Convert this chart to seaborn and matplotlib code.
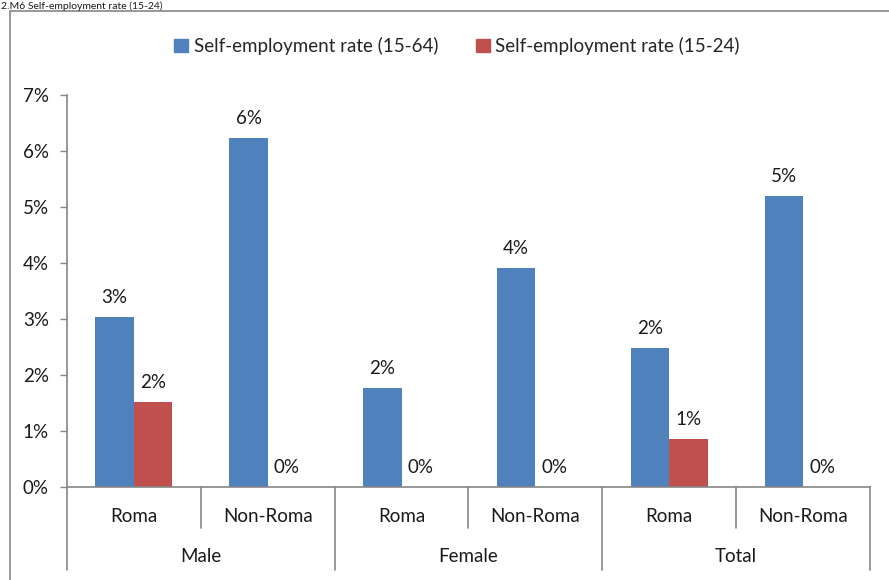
import matplotlib
matplotlib.use("Agg")
import matplotlib.pyplot as plt
import matplotlib.transforms as mtransforms
from matplotlib.lines import Line2D
import seaborn as sns
import pandas as pd

# Chart data (percent)
groups = ["Male", "Male", "Female", "Female", "Total", "Total"]
subgroups = ["Roma", "Non-Roma", "Roma", "Non-Roma", "Roma", "Non-Roma"]
rate_15_64 = [3.04, 6.23, 1.77, 3.91, 2.48, 5.20]
rate_15_24 = [1.51, 0.0, 0.0, 0.0, 0.85, 0.0]
series_names = ["Self-employment rate (15-64)", "Self-employment rate (15-24)"]
y_ticks = [0, 1, 2, 3, 4, 5, 6, 7]

keys = [f"{g} {s}" for g, s in zip(groups, subgroups)]
df = pd.DataFrame({
    "key": keys * 2,
    "value": rate_15_64 + rate_15_24,
    "series": [series_names[0]] * len(keys) + [series_names[1]] * len(keys),
})

sns.set_theme(style="white")
plt.rcParams["font.family"] = ["Lato", "DejaVu Sans"]

BLUE = "#4F81BD"
RED = "#C0504D"
AXIS = "#868686"
FS = 13.5

fig = plt.figure(figsize=(8.89, 5.80), dpi=100)
ax = fig.add_axes([67 / 889, 1 - 487 / 580, (870 - 67) / 889, (487 - 95) / 580])

sns.barplot(data=df, x="key", y="value", hue="series", order=keys,
            hue_order=series_names, palette=[BLUE, RED], width=0.575,
            linewidth=0, saturation=1, ax=ax)

for cont in ax.containers:
    ax.bar_label(cont, labels=[f"{v:.0f}%" for v in cont.datavalues],
                 padding=8, fontsize=FS, color="#1a1a1a")

ax.set_xlim(-0.5, len(keys) - 0.5)
ax.set_ylim(0, 7)
ax.set_yticks(y_ticks)
ax.set_yticklabels([f"{t}%" for t in y_ticks], fontsize=FS, color="#1a1a1a")
ax.set_xticks([])
ax.set_xlabel("")
ax.set_ylabel("")
ax.tick_params(axis="y", length=5, width=1, color=AXIS, pad=8, left=True)
for side in ["top", "right"]:
    ax.spines[side].set_visible(False)
for side in ["left", "bottom"]:
    ax.spines[side].set_color(AXIS)
    ax.spines[side].set_linewidth(1.2)

# Hierarchical category axis
trans = mtransforms.blended_transform_factory(ax.transData, ax.transAxes)
h = 487 - 95
sub_depth = -41 / h
grp_depth = -83 / h
for i in range(len(keys) + 1):
    x = i - 0.5
    outer = i == 0 or i == len(keys) or groups[i] != groups[i - 1]
    ax.plot([x, x], [0, grp_depth if outer else sub_depth], transform=trans,
            color=AXIS, lw=1.2, clip_on=False)
for i, s in enumerate(subgroups):
    ax.text(i, -29 / h, s, transform=trans, ha="center", va="center",
            fontsize=FS, color="#1a1a1a")
seen = []
for g in groups:
    if g not in seen:
        seen.append(g)
for g in seen:
    idx = [i for i, gg in enumerate(groups) if gg == g]
    ax.text(sum(idx) / len(idx), -70 / h, g, transform=trans, ha="center",
            va="center", fontsize=FS, color="#1a1a1a")

# Legend
handles = [plt.Rectangle((0, 0), 1, 1, color=c) for c in [BLUE, RED]]
ax.legend(handles, series_names, loc="center", bbox_to_anchor=(457 / 889, 1 - 46 / 580),
          bbox_transform=fig.transFigure, ncol=2, frameon=False, fontsize=FS,
          handlelength=0.75, handleheight=0.75, handletextpad=0.3, columnspacing=2.0)

# Chart frame and heading
fig.add_artist(Line2D([10 / 889, 10 / 889], [0, 1 - 11 / 580], color=AXIS, lw=1.2))
fig.add_artist(Line2D([10 / 889, 1], [1 - 11 / 580, 1 - 11 / 580], color=AXIS, lw=1.2))
fig.text(1 / 889, 1 - 1 / 580, "2.M6 Self-employment rate (15-24)", ha="left",
         va="top", fontsize=7.5, color="#1a1a1a")

fig.savefig("out.png", dpi=100)
